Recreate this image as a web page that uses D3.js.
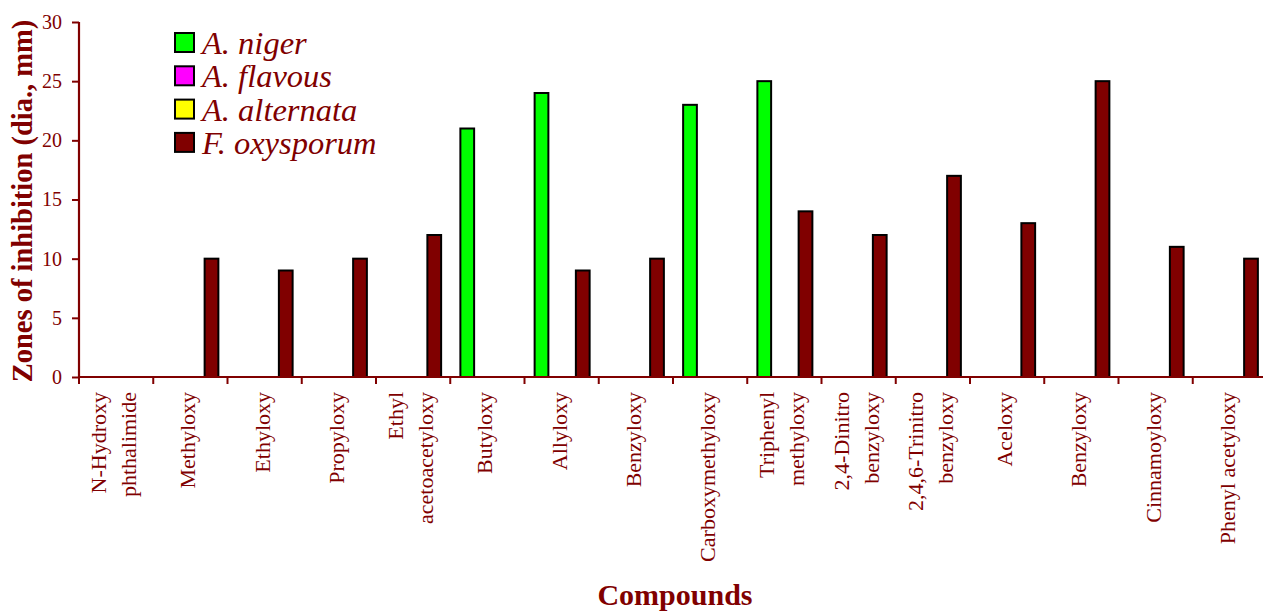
<!DOCTYPE html>
<html>
<head>
<meta charset="utf-8">
<script src="https://cdn.jsdelivr.net/npm/d3@7"></script>
<style>
  html, body { margin: 0; padding: 0; background: #fff; }
  svg { display: block; }
  text { font-family: "Liberation Serif", "Times New Roman", serif; fill: #800000; }
</style>
</head>
<body>
<svg id="chart" width="1263" height="612"></svg>
<script>
const categories = [
  "N-Hydroxy\nphthalimide", "Methyloxy", "Ethyloxy", "Propyloxy",
  "Ethyl\nacetoacetyloxy", "Butyloxy", "Allyloxy", "Benzyloxy",
  "Carboxymethyloxy", "Triphenyl\nmethyloxy", "2,4-Dinitro\nbenzyloxy",
  "2,4,6-Trinitro\nbenzyloxy", "Aceloxy", "Benzyloxy", "Cinnamoyloxy",
  "Phenyl acetyloxy"
];
const seriesNames = ["A. niger", "A. flavous", "A. alternata", "F. oxysporum"];
const seriesColors = ["#00ff00", "#ff00ff", "#ffff00", "#800000"];
const niger      = [0, 0, 0, 0, 0, 21, 24, 0, 23, 25, 0, 0, 0, 0, 0, 0];
const flavous    = [0, 0, 0, 0, 0, 0, 0, 0, 0, 0, 0, 0, 0, 0, 0, 0];
const alternata  = [0, 0, 0, 0, 0, 0, 0, 0, 0, 0, 0, 0, 0, 0, 0, 0];
const oxysporum  = [0, 10, 9, 10, 12, 0, 9, 10, 0, 14, 12, 17, 13, 25, 11, 10];
const yTicks = [0, 5, 10, 15, 20, 25, 30];

const seriesValues = [niger, flavous, alternata, oxysporum];
const axisColor = "#800000";

const svg = d3.select("#chart");
const mLeft = 79, mRight = 1267, mTop = 22, mBottom = 377;

const x0 = d3.scaleBand().domain(d3.range(categories.length)).range([mLeft, mRight]).padding(0);
const x1 = d3.scaleBand().domain(d3.range(seriesNames.length)).range([0, x0.bandwidth()])
  .paddingInner(0).paddingOuter(0.7);
const y = d3.scaleLinear().domain([0, 30]).range([mBottom, mTop]);

// bars
const records = [];
seriesValues.forEach((vals, s) => vals.forEach((v, i) => { if (v > 0) records.push({s, i, v}); }));
svg.append("g").selectAll("rect").data(records).join("rect")
  .attr("x", d => x0(d.i) + x1(d.s) + 0.5)
  .attr("y", d => y(d.v))
  .attr("width", x1.bandwidth())
  .attr("height", d => y(0) - y(d.v))
  .attr("fill", d => seriesColors[d.s])
  .attr("stroke", "#000")
  .attr("stroke-width", 2);

// y axis
const yAxis = d3.axisLeft(y).tickValues(yTicks).tickSize(7).tickPadding(10);
const gy = svg.append("g").attr("transform", `translate(${mLeft},0)`).call(yAxis);
gy.select(".domain").attr("stroke", axisColor).attr("stroke-width", 2.2).attr("d", `M0,${mTop}V${mBottom}`);
gy.selectAll(".tick line").attr("stroke", axisColor).attr("stroke-width", 2);
gy.selectAll(".tick text").style("font-family", '"Liberation Serif", serif').style("font-size", "20px")
  .attr("fill", axisColor);

// x axis line and ticks at band boundaries
const xg = svg.append("g");
xg.append("line").attr("x1", mLeft).attr("x2", mRight).attr("y1", mBottom).attr("y2", mBottom)
  .attr("stroke", axisColor).attr("stroke-width", 2.2);
const boundaries = d3.range(categories.length + 1).map(i => mLeft + i * x0.step());
xg.selectAll("line.tk").data(boundaries).join("line").attr("class", "tk")
  .attr("x1", d => d).attr("x2", d => d).attr("y1", mBottom).attr("y2", mBottom + 7)
  .attr("stroke", axisColor).attr("stroke-width", 2);

// x labels
const lineH = 30;
const lab = svg.append("g").selectAll("g").data(categories).join("g")
  .attr("transform", (d, i) => `translate(${x0(i) + x0.bandwidth() / 2},392) rotate(-90)`);
lab.each(function(d) {
  const lines = d.split("\n");
  const t = d3.select(this).append("text").attr("text-anchor", "end").style("font-size", "22px");
  lines.forEach((ln, k) => {
    t.append("tspan").attr("x", 0).attr("y", 5 + (k - (lines.length - 1) / 2) * lineH).text(ln);
  });
});

// axis titles
svg.append("text").attr("transform", "translate(32,201) rotate(-90)")
  .attr("text-anchor", "middle").style("font-size", "28.5px").style("font-weight", "bold")
  .text("Zones of inhibition (dia., mm)");
svg.append("text").attr("x", 675).attr("y", 605)
  .attr("text-anchor", "middle").style("font-size", "30px").style("font-weight", "bold")
  .text("Compounds");

// legend
const leg = svg.append("g").selectAll("g").data(seriesNames).join("g")
  .attr("transform", (d, i) => `translate(175,${33 + i * 33.3})`);
leg.append("rect").attr("x", 0).attr("y", 0).attr("width", 19).attr("height", 19)
  .attr("fill", (d, i) => seriesColors[i]).attr("stroke", "#000").attr("stroke-width", 2);
leg.append("text").attr("x", 27).attr("y", 21).style("font-size", "32.5px").style("font-style", "italic")
  .text(d => d);
</script>
</body>
</html>
